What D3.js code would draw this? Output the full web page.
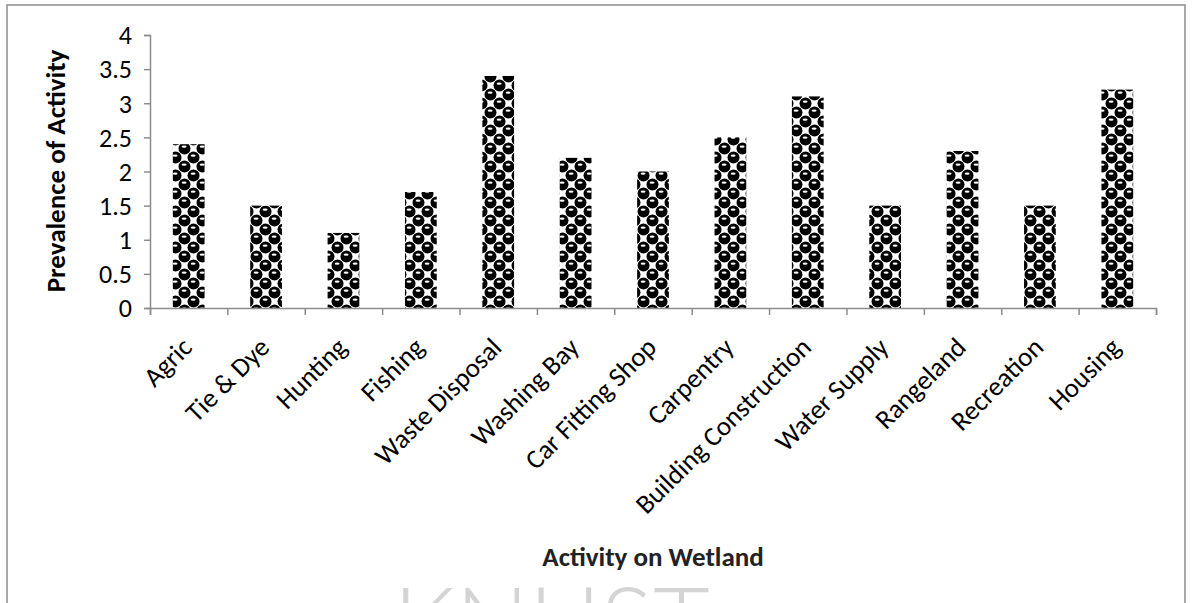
<!DOCTYPE html>
<html>
<head>
<meta charset="utf-8">
<title>Prevalence of Activity</title>
<script src="https://d3js.org/d3.v7.min.js"></script>
<style>
  body { margin: 0; background: #fff; overflow: hidden; }
  svg { display: block; }
  text { font-family: Carlito, Calibri, Lato, sans-serif; }
</style>
</head>
<body>
<script>
// chart values
var activities = ["Agric", "Tie & Dye", "Hunting", "Fishing", "Waste Disposal", "Washing Bay",
                  "Car Fitting Shop", "Carpentry", "Building Construction", "Water Supply",
                  "Rangeland", "Recreation", "Housing"];
var prevalence = [2.4, 1.5, 1.1, 1.7, 3.4, 2.2, 2.0, 2.5, 3.1, 1.5, 2.3, 1.5, 3.2];
var yTicks = [0, 0.5, 1, 1.5, 2, 2.5, 3, 3.5, 4];

var W = 1193, H = 603;
var plotL = 150, plotR = 1156, plotT = 35, plotB = 308;

var svg = d3.select("body").append("svg")
    .attr("width", W)
    .attr("height", H);

// sphere pattern like excel's
var defs = svg.append("defs");
var tile = 18, half = tile / 2;
var pat = defs.append("pattern")
    .attr("id", "spheres")
    .attr("patternUnits", "userSpaceOnUse")
    .attr("width", tile).attr("height", tile);
pat.append("rect").attr("width", tile).attr("height", tile).attr("fill", "#fff");
var centres = [[half / 2, half / 2], [half * 1.5, half * 1.5], [-half / 2, half * 1.5],
               [half * 1.5, -half / 2], [half / 2, tile + half / 2], [tile + half / 2, half / 2]];
centres.forEach(function(c) {
    pat.append("circle").attr("cx", c[0]).attr("cy", c[1]).attr("r", 6).attr("fill", "#000");
    pat.append("ellipse").attr("cx", c[0] - 0.4).attr("cy", c[1] - 1.8)
        .attr("rx", 2.5).attr("ry", 1.1).attr("fill", "#fff");
});

// watermark
svg.append("text")
    .attr("x", 393).attr("y", 658)
    .attr("font-size", 98)
    .attr("font-weight", 300)
    .style("font-family", "Lato, sans-serif")
    .attr("fill", "#d4d4d4")
    .text("KNUST");

// outer frame (bottom edge is off the picture)
svg.append("path")
    .attr("d", "M7," + (H + 5) + "V5H1185V" + (H + 5))
    .attr("fill", "none")
    .attr("stroke", "#8c8c8c")
    .attr("stroke-width", 1.5);

var x = d3.scaleBand().domain(activities).range([plotL, plotR]).paddingInner(0.59).paddingOuter(0.295);
var xEdges = d3.scaleLinear().domain([0, activities.length]).range([plotL, plotR]);
var y = d3.scaleLinear().domain([0, 4]).range([plotB, plotT]);

// bars
svg.append("g").selectAll("rect")
    .data(activities)
    .enter().append("rect")
    .attr("x", function(d) { return x(d); })
    .attr("y", function(d, i) { return y(prevalence[i]); })
    .attr("width", x.bandwidth())
    .attr("height", function(d, i) { return y(0) - y(prevalence[i]); })
    .attr("fill", "url(#spheres)");

// y axis
var yAxis = svg.append("g")
    .attr("transform", "translate(" + plotL + ",0)")
    .call(d3.axisLeft(y).tickValues(yTicks).tickSize(6).tickPadding(12).tickFormat(d3.format("")));
yAxis.selectAll("text").attr("font-size", 26).attr("fill", "#000").attr("dy", "0.34em");

// x axis - ticks sit between categories
svg.append("g")
    .attr("transform", "translate(0," + plotB + ")")
    .call(d3.axisBottom(xEdges).tickValues(d3.range(activities.length + 1)).tickSize(7).tickFormat(""));

svg.selectAll(".domain, .tick line").attr("stroke", "#8c8c8c").attr("stroke-width", 1.5);

// category labels at -45
svg.append("g").selectAll("text")
    .data(activities)
    .enter().append("text")
    .attr("transform", function(d) {
        return "translate(" + (x(d) + x.bandwidth() / 2 + 5) + "," + (plotB + 41) + ") rotate(-45)";
    })
    .attr("text-anchor", "end")
    .attr("font-size", 27)
    .attr("fill", "#000")
    .text(function(d) { return d; });

// axis titles
svg.append("text")
    .attr("transform", "translate(65,171) rotate(-90)")
    .attr("text-anchor", "middle")
    .attr("font-size", 27)
    .attr("font-weight", "bold")
    .attr("fill", "#000")
    .text("Prevalence of Activity");

svg.append("text")
    .attr("x", (plotL + plotR) / 2)
    .attr("y", 566)
    .attr("text-anchor", "middle")
    .attr("font-size", 27)
    .attr("font-weight", "bold")
    .attr("fill", "#222")
    .text("Activity on Wetland");
</script>
</body>
</html>
